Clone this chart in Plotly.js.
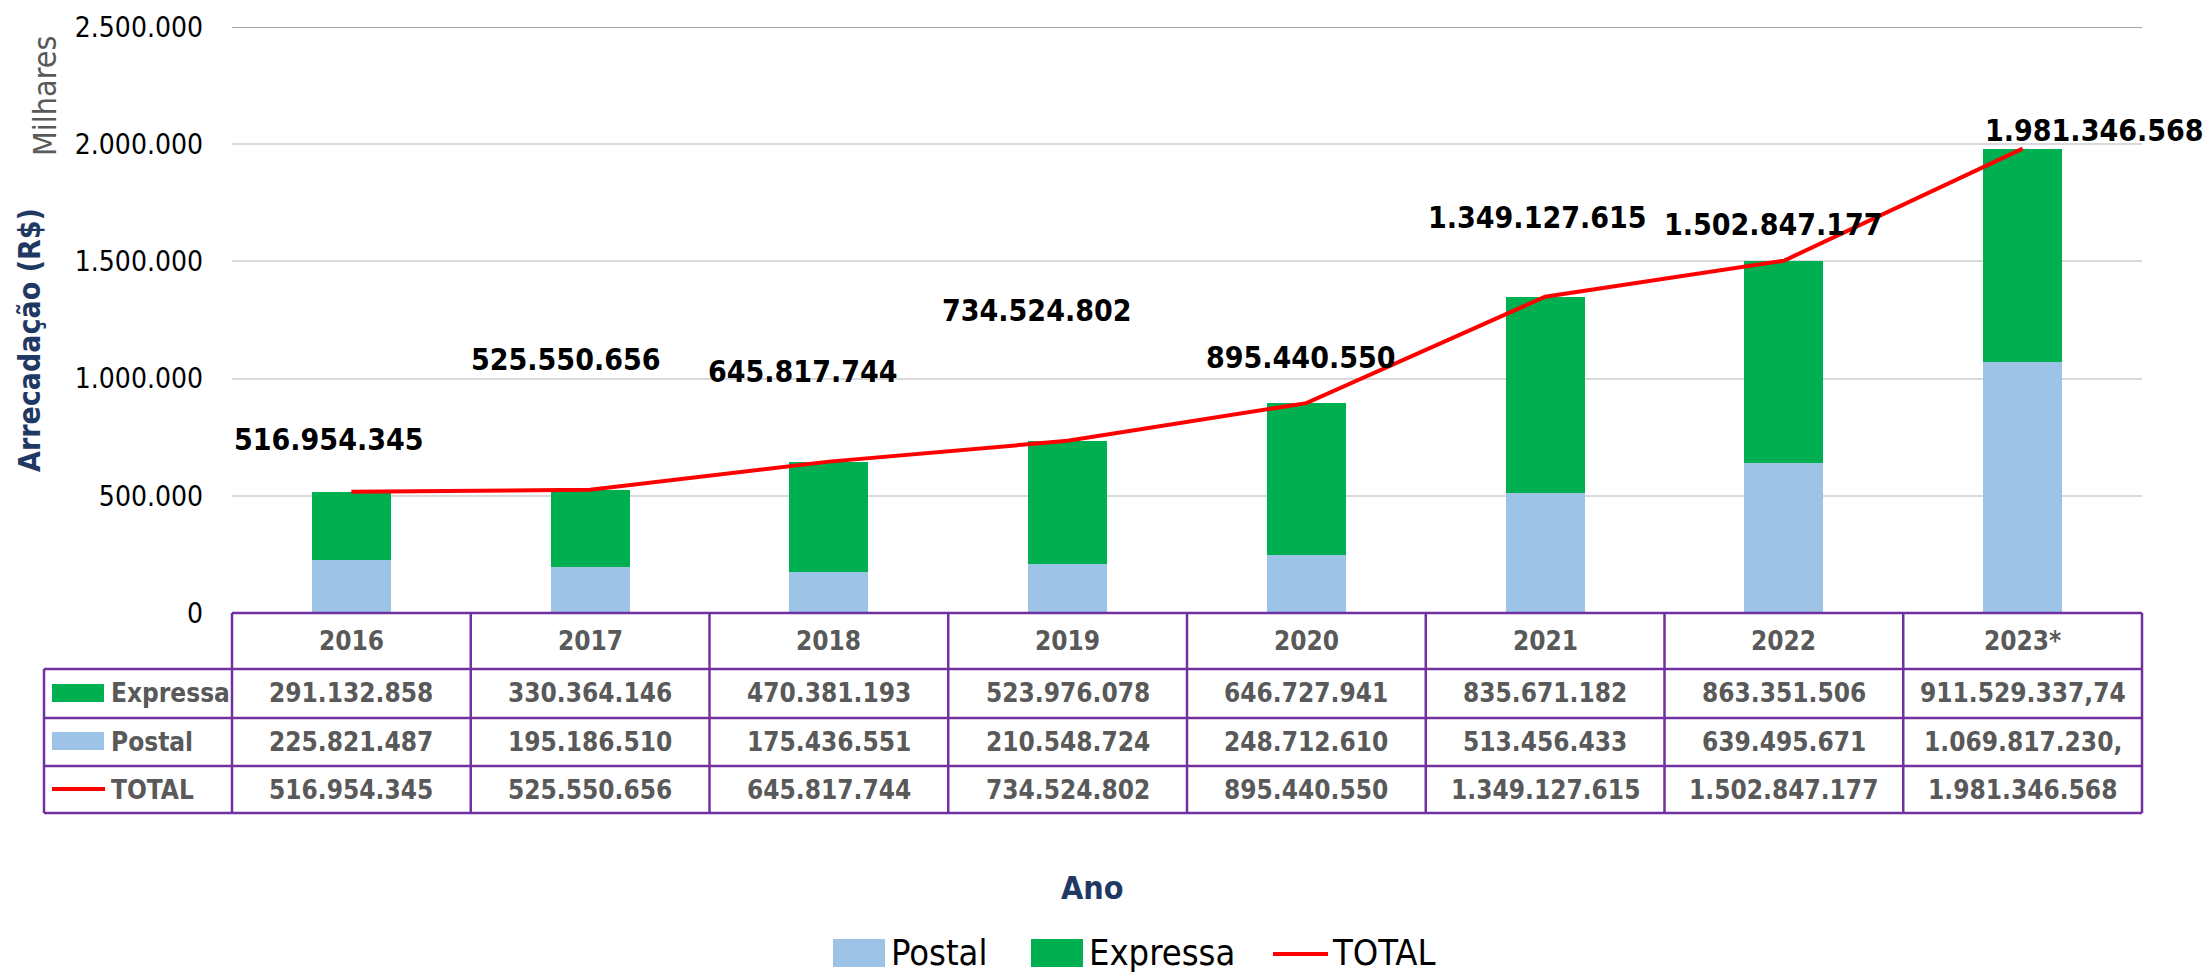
<!DOCTYPE html>
<html>
<head>
<meta charset="utf-8">
<script src="https://cdn.plot.ly/plotly-3.0.1.min.js"></script>
<style>html,body{margin:0;padding:0;background:#fff;}</style>
</head>
<body>
<div id="chart" style="width:2210px;height:975px;"></div>
<script>
// ---------------- DATA ----------------
const years    = ['2016','2017','2018','2019','2020','2021','2022','2023*'];
const expressa = [291132858, 330364146, 470381193, 523976078, 646727941, 835671182, 863351506, 911529337.74];
const postal   = [225821487, 195186510, 175436551, 210548724, 248712610, 513456433, 639495671, 1069817230.26];
const total    = [516954345, 525550656, 645817744, 734524802, 895440550, 1349127615, 1502847177, 1981346568];
const yTicks   = [0, 500000, 1000000, 1500000, 2000000, 2500000]; // in thousands (Milhares)
const seriesNames = ['Expressa', 'Postal', 'TOTAL'];

// ---------------- LAYOUT / STYLE ----------------
const W = 2210, H = 975;
const L = 232, R = 2142, T = 27, B = 613;           // plot area in pixels
const px = X => (X - L) / (R - L);                    // pixel -> paper x
const py = Y => (B - Y) / (B - T);                    // pixel -> paper y
// offsets of the total data labels (px) relative to their points
const labelDx = [-22, -24, -26, -31, -5, -8, -10, 72];
const labelDy = [52, 130, 90, 130, 46, 79, 36, 18];

const C_POSTAL = '#9DC3E6', C_EXP = '#00B050', C_TOT = '#FF0000';
const C_TABLE = '#7030A0', C_TTXT = '#595959', C_NAVY = '#1F3864';
const FONT = 'DejaVu Sans Condensed, DejaVu Sans, sans-serif';

const thousands = a => a.map(v => v / 1000);
const fmt = v => {
  const ip = Math.floor(v);
  const frac = Math.round((v - ip) * 100);
  let s = String(ip).replace(/\B(?=(\d{3})+(?!\d))/g, '.');
  if (frac) s += ',' + String(frac).padStart(2, '0');
  return s;
};
const cell = v => { const s = fmt(v); return s.length > 14 ? s.slice(0, 14) : s; };

const traces = [
  {type:'bar', name:'Postal', x:years, y:thousands(postal), width:0.33,
   marker:{color:C_POSTAL}, hoverinfo:'skip'},
  {type:'bar', name:'Expressa', x:years, y:thousands(expressa), width:0.33,
   marker:{color:C_EXP}, hoverinfo:'skip'},
  {type:'scatter', mode:'lines', name:'TOTAL', x:years, y:thousands(total),
   line:{color:C_TOT, width:4}, hoverinfo:'skip'}
];

const shapes = [];
const annotations = [];

// darker top border line
shapes.push({type:'line', xref:'paper', yref:'y', x0:0, x1:1, y0:yTicks[yTicks.length-1], y1:yTicks[yTicks.length-1],
  line:{color:'#A6A6A6', width:2}});

// ---- data table ----
const rowBot = 813;
const lineT = {color:C_TABLE, width:2.5};
shapes.push({type:'line', xref:'paper', yref:'paper', x0:0, x1:1, y0:py(613), y1:py(613), line:lineT});
[669, 718, 766, 813].forEach(Y => shapes.push({type:'line', xref:'paper', yref:'paper',
  x0:px(44), x1:1, y0:py(Y), y1:py(Y), line:lineT}));
for (let i = 0; i <= years.length; i++) {
  const xp = i / years.length;   // category boundaries on the x axis
  shapes.push({type:'line', xref:'paper', yref:'paper', x0:xp, x1:xp, y0:py(613), y1:py(rowBot), line:lineT});
}
shapes.push({type:'line', xref:'paper', yref:'paper', x0:px(44), x1:px(44), y0:py(669), y1:py(rowBot), line:lineT});

const rowMid = [641, 693.5, 742, 789.5];
const tFont = {family:FONT, size:26, color:C_TTXT, weight:'bold'};
years.forEach((yr, i) => {
  annotations.push({xref:'x', yref:'paper', x:i, y:py(rowMid[0]), text:yr, showarrow:false,
    xanchor:'center', yanchor:'middle', font:tFont});
  [expressa, postal, total].forEach((arr, r) => {
    annotations.push({xref:'x', yref:'paper', x:i, y:py(rowMid[r+1]), text:cell(arr[i]), showarrow:false,
      xanchor:'center', yanchor:'middle', font:tFont});
  });
});
// legend keys inside table
shapes.push({type:'rect', xref:'paper', yref:'paper', x0:px(52), x1:px(104), y0:py(702), y1:py(684),
  fillcolor:C_EXP, line:{width:0}});
shapes.push({type:'rect', xref:'paper', yref:'paper', x0:px(52), x1:px(104), y0:py(750), y1:py(732),
  fillcolor:C_POSTAL, line:{width:0}});
shapes.push({type:'line', xref:'paper', yref:'paper', x0:px(52), x1:px(105), y0:py(789), y1:py(789),
  line:{color:C_TOT, width:4}});
seriesNames.forEach((n, r) => annotations.push({xref:'paper', yref:'paper', x:px(109), y:py(rowMid[r+1]),
  text:n, showarrow:false, xanchor:'left', yanchor:'middle', font:tFont}));

// ---- total data labels ----
years.forEach((yr, i) => annotations.push({xref:'x', yref:'y', x:i, y:total[i]/1000,
  text:fmt(total[i]), showarrow:false, xanchor:'center', yanchor:'middle',
  xshift:labelDx[i], yshift:labelDy[i], font:{family:FONT, size:30, color:'#000000', weight:'bold'}}));

// ---- axis titles ----
annotations.push({xref:'paper', yref:'paper', x:px(29), y:py(340), text:'Arrecadação (R$)', textangle:-90,
  showarrow:false, xanchor:'center', yanchor:'middle', font:{family:FONT, size:30, color:C_NAVY, weight:'bold'}});
annotations.push({xref:'paper', yref:'paper', x:px(45), y:py(96), text:'Milhares', textangle:-90,
  showarrow:false, xanchor:'center', yanchor:'middle', font:{family:FONT, size:32, color:C_TTXT}});
annotations.push({xref:'paper', yref:'paper', x:px(1092), y:py(888), text:'Ano',
  showarrow:false, xanchor:'center', yanchor:'middle', font:{family:FONT, size:32, color:C_NAVY, weight:'bold'}});

// ---- bottom legend ----
const legFont = {family:FONT, size:36, color:'#000000'};
const legY = 952;
shapes.push({type:'rect', xref:'paper', yref:'paper', x0:px(833), x1:px(885), y0:py(legY+15), y1:py(legY-13),
  fillcolor:C_POSTAL, line:{width:0}});
annotations.push({xref:'paper', yref:'paper', x:px(890), y:py(legY), text:'Postal', showarrow:false,
  xanchor:'left', yanchor:'middle', borderpad:0, font:legFont});
shapes.push({type:'rect', xref:'paper', yref:'paper', x0:px(1031), x1:px(1083), y0:py(legY+15), y1:py(legY-13),
  fillcolor:C_EXP, line:{width:0}});
annotations.push({xref:'paper', yref:'paper', x:px(1088), y:py(legY), text:'Expressa', showarrow:false,
  xanchor:'left', yanchor:'middle', borderpad:0, font:legFont});
shapes.push({type:'line', xref:'paper', yref:'paper', x0:px(1273), x1:px(1328), y0:py(legY+2), y1:py(legY+2),
  line:{color:C_TOT, width:4}});
annotations.push({xref:'paper', yref:'paper', x:px(1331), y:py(legY), text:'TOTAL', showarrow:false,
  xanchor:'left', yanchor:'middle', borderpad:0, font:legFont});

const layout = {
  width:W, height:H,
  margin:{l:L, r:W-R, t:T, b:H-B, pad:0},
  paper_bgcolor:'#ffffff', plot_bgcolor:'#ffffff',
  separators:',.',
  barmode:'stack',
  showlegend:false,
  xaxis:{type:'category', range:[-0.5, years.length-0.5], showticklabels:false, showgrid:false,
    zeroline:false, showline:false, ticks:'', fixedrange:true},
  yaxis:{range:[0, yTicks[yTicks.length-1]], tickvals:yTicks, tickformat:',d', showgrid:true,
    gridcolor:'#D9D9D9', gridwidth:2, zeroline:false, showline:false, ticks:'',
    ticklabelstandoff:28, tickfont:{family:FONT, size:28, color:'#000000'}, fixedrange:true},
  shapes:shapes,
  annotations:annotations
};

Plotly.newPlot('chart', traces, layout, {displayModeBar:false, staticPlot:true});
</script>
</body>
</html>
